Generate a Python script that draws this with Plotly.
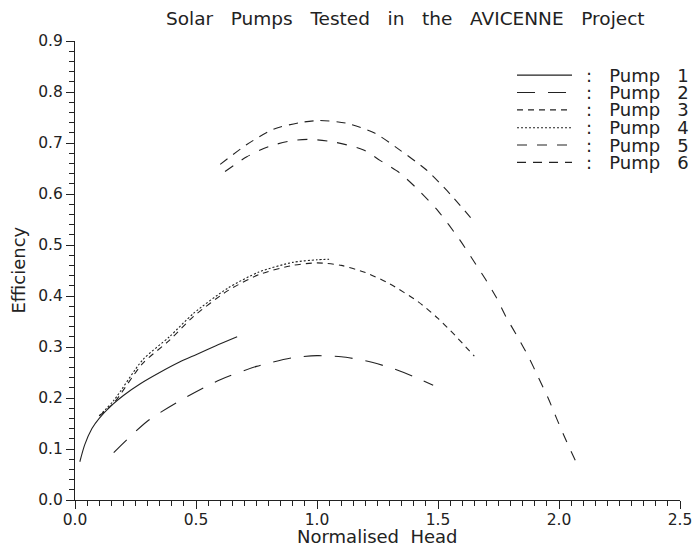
import plotly.graph_objects as go

# ---- data ----
pump1_x = [0.02, 0.04, 0.07, 0.1, 0.15, 0.2, 0.27, 0.35, 0.43, 0.5, 0.58, 0.67]
pump1_y = [0.075, 0.108, 0.14, 0.16, 0.185, 0.205, 0.228, 0.25, 0.27, 0.285, 0.302, 0.32]

pump2_x = [0.16, 0.3, 0.45, 0.6, 0.75, 0.9, 1.0, 1.1, 1.2, 1.3, 1.4, 1.48]
pump2_y = [0.093, 0.155, 0.199, 0.236, 0.262, 0.279, 0.283, 0.281, 0.273, 0.26, 0.242, 0.225]

pump3_x = [0.1, 0.16, 0.28, 0.39, 0.49, 0.63, 0.76, 0.9, 1.0, 1.1, 1.2, 1.3, 1.42, 1.5, 1.57, 1.65]
pump3_y = [0.165, 0.19, 0.268, 0.313, 0.36, 0.41, 0.442, 0.46, 0.465, 0.46, 0.446, 0.424, 0.388, 0.356, 0.323, 0.282]

pump4_x = [0.1, 0.16, 0.28, 0.39, 0.49, 0.63, 0.76, 0.9, 1.0, 1.05]
pump4_y = [0.165, 0.195, 0.275, 0.32, 0.366, 0.415, 0.447, 0.466, 0.471, 0.472]

pump5_x = [0.62, 0.71, 0.8, 0.9, 0.98, 1.08, 1.19, 1.26, 1.34, 1.41, 1.5, 1.59, 1.64,
           1.7, 1.74, 1.78, 1.83, 1.875, 1.915, 1.955, 1.99, 2.03, 2.075]
pump5_y = [0.644, 0.673, 0.693, 0.705, 0.707, 0.701, 0.687, 0.666, 0.642, 0.612, 0.567, 0.51, 0.474,
           0.43, 0.398, 0.36, 0.319, 0.28, 0.24, 0.2, 0.16, 0.116, 0.07]

pump6_x = [0.6, 0.71, 0.82, 0.93, 1.01, 1.12, 1.24, 1.34, 1.45, 1.55, 1.65]
pump6_y = [0.658, 0.697, 0.727, 0.74, 0.744, 0.739, 0.719, 0.687, 0.648, 0.6, 0.545]

names = ["Pump 1", "Pump 2", "Pump 3", "Pump 4", "Pump 5", "Pump 6"]
legend_labels = [":   Pump   1", ":   Pump   2", ":   Pump   3",
                 ":   Pump   4", ":   Pump   5", ":   Pump   6"]
legend_rows = [0.833, 0.799, 0.765, 0.730, 0.696, 0.662]

title_text = "Solar   Pumps   Tested   in   the   AVICENNE   Project"
x_title = "Normalised  Head"
y_title = "Efficiency"

# ---- styles ----
dashes = ["solid", "18px,13px", "6px,5px", "2px,2px", "10px,10px", "9px,7px"]
ink = "#222222"
font_family = "DejaVu Sans, Liberation Sans, sans-serif"

series = [(pump1_x, pump1_y), (pump2_x, pump2_y), (pump3_x, pump3_y),
          (pump4_x, pump4_y), (pump5_x, pump5_y), (pump6_x, pump6_y)]

fig = go.Figure()
for (xs, ys), nm, d in zip(series, names, dashes):
    fig.add_trace(go.Scatter(x=xs, y=ys, name=nm, mode="lines",
                             line=dict(color=ink, width=1.1, dash=d,
                                       shape="spline", smoothing=0.7),
                             showlegend=False))

# custom legend (line sample + text)
for row, lab, d in zip(legend_rows, legend_labels, dashes):
    fig.add_shape(type="line", xref="paper", yref="y",
                  x0=0.7306, x1=0.8215, y0=row, y1=row,
                  line=dict(color=ink, width=1.1, dash=d))
    fig.add_annotation(xref="paper", yref="y", x=0.841, y=row, text=lab,
                       showarrow=False, xanchor="left", yanchor="middle",
                       font=dict(family=font_family, size=18, color=ink))

# title
fig.add_annotation(xref="paper", yref="paper", x=0.5455, y=1.048, text=title_text,
                   showarrow=False, xanchor="center", yanchor="middle",
                   font=dict(family=font_family, size=18.5, color=ink))
# axis titles
fig.add_annotation(xref="paper", yref="paper", x=0.5, y=-0.0785, text=x_title,
                   showarrow=False, xanchor="center", yanchor="middle",
                   font=dict(family=font_family, size=18, color=ink))
fig.add_annotation(xref="paper", yref="paper", x=-0.0942, y=0.5, text=y_title,
                   showarrow=False, xanchor="center", yanchor="middle", textangle=-90,
                   font=dict(family=font_family, size=18, color=ink))

axis_common = dict(showline=True, linecolor=ink, linewidth=1, showgrid=False, zeroline=False,
                   ticks="outside", tickcolor=ink, ticklen=8, tickwidth=1,
                   tickfont=dict(family=font_family, size=15.5, color=ink),
                   ticklabeloverflow="allow", automargin=False, mirror=False)

fig.update_layout(
    width=693, height=546,
    margin=dict(l=75, r=13, t=41, b=46),
    paper_bgcolor="white", plot_bgcolor="white",
    xaxis=dict(range=[0, 2.5], dtick=0.5, tick0=0, tickformat=".1f",
               minor=dict(dtick=0.05, ticks="outside", ticklen=5, tickcolor=ink),
               ticklabelstandoff=-3,
               **axis_common),
    yaxis=dict(range=[0, 0.9], dtick=0.1, tick0=0, tickformat=".1f",
               minor=dict(dtick=0.02, ticks="outside", ticklen=5, tickcolor=ink),
               **axis_common),
)

fig.write_html("out.html", config={"displayModeBar": False},
               post_script="document.body.style.margin='0';document.body.style.overflow='hidden';")
